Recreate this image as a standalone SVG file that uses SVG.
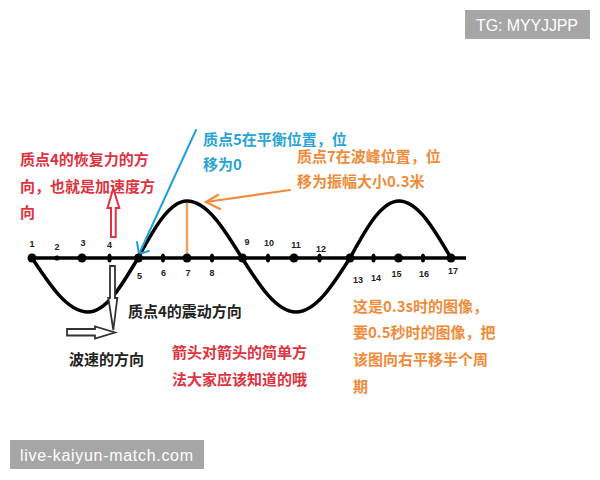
<svg xmlns="http://www.w3.org/2000/svg" width="600" height="480" viewBox="0 0 600 480">
<style>
.cjk{font-family:"Noto Sans CJK SC","Noto Sans",sans-serif;font-weight:bold;font-size:15px}
.red{fill:#de3341}
.blue{fill:#2aa3d6}
.org{fill:#f08b3a}
.blk{fill:#222}
.num{font-family:"Liberation Sans",Arial,sans-serif;font-size:9px;font-weight:bold;fill:#222;text-anchor:middle}
.wm{font-family:"Liberation Sans",Arial,sans-serif;font-size:16px;fill:#fff}
.dot{fill:#000}
</style>
<rect width="600" height="480" fill="#fff"/>

<g id="watermarks">
<rect x="465" y="10" width="125" height="29" fill="#a6a6a6"/>
<text class="wm" x="476" y="31" textLength="102">TG: MYYJJPP</text>
<rect x="10" y="440" width="194" height="29" fill="#a6a6a6"/>
<text class="wm" x="20" y="461" textLength="173">live-kaiyun-match.com</text>
</g>

<g id="connectors">
<line id="axis" x1="30" y1="258" x2="466" y2="258" stroke="#000" stroke-width="3.5"/>
<path id="wave" d="M32,258 C50.3,285.7 67.7,312 88,312 C106.1,312 121.7,285.7 138,258 C154,228.8 169.3,201 187,201 C206.9,201 224.1,228.8 242,258 C259.6,285.7 276.5,312 296,312 C315.5,312 332.4,285.7 350,258 C366,228.8 381.3,201 399,201 C417.8,201 434,228.8 451,258" fill="none" stroke="#000" stroke-width="3.5" stroke-linecap="round"/>
<line x1="187" y1="203" x2="187" y2="258" stroke="#f0a060" stroke-width="2.5"/>
<g id="blue-arrow" stroke="#1ea0dc" stroke-width="2" fill="none" stroke-linecap="round">
<line x1="196" y1="130" x2="139" y2="254"/>
<polyline points="137,242 139,254 149,251"/>
</g>
<g id="orange-arrow" stroke="#f08b3a" stroke-width="2.2" fill="none" stroke-linecap="round">
<line x1="290" y1="190" x2="206" y2="202"/>
<polyline points="218,195 206,202 220,209"/>
</g>
<polygon id="red-arrow" points="111,237 111,208 107.5,208 113.3,188.5 119.3,208 115.7,208 115.7,237" fill="#fff" stroke="#de3341" stroke-width="2"/>
<polygon id="down-arrow" points="110,266 110,298 108.3,298 113.3,330 117.3,298 115,298 115,266" fill="#fff" stroke="#333" stroke-width="1.8"/>
<polygon id="right-arrow" points="67,329 95,329 95,326.5 115,332.5 95,338.5 95,335.5 67,335.5" fill="#fff" stroke="#333" stroke-width="1.8"/>
</g>

<g id="points">
<circle class="dot" cx="32" cy="258" r="4.5"/>
<circle class="dot" cx="57" cy="258" r="2.6"/>
<circle class="dot" cx="82" cy="258" r="4.5"/>
<ellipse class="dot" cx="109.5" cy="258" rx="2.2" ry="4.5"/>
<circle class="dot" cx="138.5" cy="258" r="4.5"/>
<ellipse class="dot" cx="163" cy="258" rx="2.2" ry="4.5"/>
<circle class="dot" cx="187" cy="258" r="4.5"/>
<ellipse class="dot" cx="212" cy="258" rx="2.2" ry="4.5"/>
<circle class="dot" cx="242.5" cy="258" r="4.5"/>
<ellipse class="dot" cx="268" cy="258" rx="2.2" ry="4.5"/>
<circle class="dot" cx="294" cy="258" r="4.5"/>
<ellipse class="dot" cx="319.5" cy="258" rx="2.2" ry="4.5"/>
<circle class="dot" cx="350" cy="258" r="4.5"/>
<ellipse class="dot" cx="373.5" cy="258" rx="2.2" ry="4.5"/>
<circle class="dot" cx="398.5" cy="258" r="4.5"/>
<ellipse class="dot" cx="423" cy="258" rx="2.2" ry="4.5"/>
<circle class="dot" cx="451" cy="258" r="4.5"/>
</g>

<g id="labels">
<text class="num" x="32" y="247">1</text>
<text class="num" x="57" y="250">2</text>
<text class="num" x="83" y="246">3</text>
<text class="num" x="109.5" y="248">4</text>
<text class="num" x="139.5" y="279">5</text>
<text class="num" x="163.5" y="276">6</text>
<text class="num" x="188" y="276">7</text>
<text class="num" x="212" y="276">8</text>
<text class="num" x="247" y="245">9</text>
<text class="num" x="269" y="246">10</text>
<text class="num" x="296" y="248">11</text>
<text class="num" x="321" y="252">12</text>
<text class="num" x="358" y="283">13</text>
<text class="num" x="376" y="281">14</text>
<text class="num" x="396.5" y="277">15</text>
<text class="num" x="424" y="277">16</text>
<text class="num" x="453" y="274">17</text>
</g>

<g id="note-restoring-force">
<text class="cjk red" x="20" y="165">质点4的恢复力的方</text>
<text class="cjk red" x="20" y="192">向，也就是加速度方</text>
<text class="cjk red" x="20" y="218">向</text>
</g>
<g id="note-point5">
<text class="cjk blue" x="203" y="145">质点5在平衡位置，位</text>
<text class="cjk blue" x="203" y="170">移为0</text>
</g>
<g id="note-point7">
<text class="cjk org" x="297" y="162">质点7在波峰位置，位</text>
<text class="cjk org" x="297" y="187">移为振幅大小0.3米</text>
</g>
<g id="note-vibration">
<text class="cjk blk" x="128" y="317">质点4的震动方向</text>
</g>
<g id="note-wave-speed">
<text class="cjk blk" x="69" y="365">波速的方向</text>
</g>
<g id="note-method">
<text class="cjk red" x="172" y="358">箭头对箭头的简单方</text>
<text class="cjk red" x="172" y="385">法大家应该知道的哦</text>
</g>
<g id="note-shift">
<text class="cjk org" x="353" y="312">这是0.3s时的图像，</text>
<text class="cjk org" x="353" y="338">要0.5秒时的图像，把</text>
<text class="cjk org" x="353" y="365">该图向右平移半个周</text>
<text class="cjk org" x="353" y="392">期</text>
</g>
</svg>
